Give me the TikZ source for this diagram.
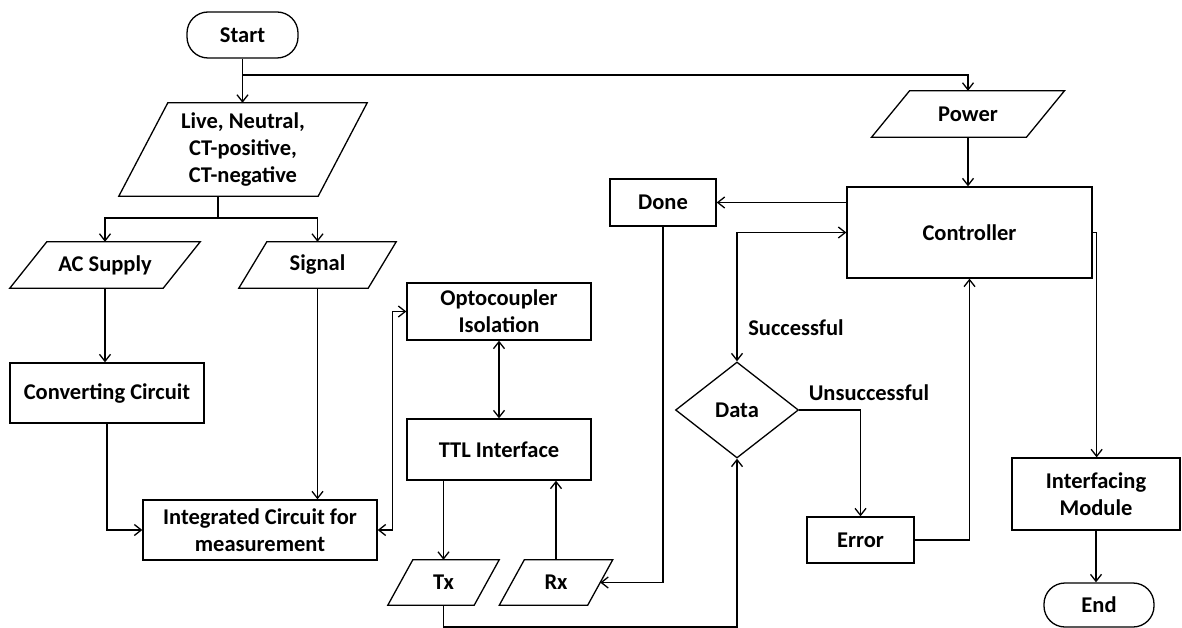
\documentclass[tikz,border=0pt]{standalone}
\usepackage{fontspec}
\setmainfont{Carlito}
\usetikzlibrary{arrows.meta,shapes.geometric}
\begin{document}
\begin{tikzpicture}[x=1pt,y=-1pt,
  every node/.style={font=\bfseries\fontsize{22.5}{27}\selectfont, inner sep=0pt, align=center},
  box/.style={draw, line width=1.3pt, minimum width=#1},
  io/.style={minimum width=#1},
  term/.style={draw, line width=1.3pt, rounded corners=21pt, minimum width=#1},
  dec/.style={draw, line width=1.3pt},
  link/.style={line width=1.5pt},
  arr/.style={link, -{Straight Barb[length=7pt,width=11pt,line width=1.3pt]}},
  both/.style={link, {Straight Barb[length=7pt,width=11pt,line width=1.3pt]}-{Straight Barb[length=7pt,width=11pt,line width=1.3pt]}},
  lbl/.style={}
]
\useasboundingbox (0,0) rectangle (1182,628);

% terminals
\node[term=111, minimum height=46] (start) at (242.5,35) {Start};
\node[term=110, minimum height=44] (end) at (1099,605) {End};

% input/output nodes (the parallelogram outline is drawn below)
\node[io=199, minimum height=93] (live) at (243,149.5) {Live, Neutral,\\CT-positive,\\CT-negative};
\node[io=153, minimum height=46] (ac) at (105,265) {AC Supply};
\node[io=129, minimum height=46] (signal) at (317.5,265) {Signal};
\node[io=154.5, minimum height=46] (power) at (968,114) {Power};
\node[io=86, minimum height=45] (tx) at (443.5,582.5) {Tx};
\node[io=88, minimum height=45] (rx) at (556,582.5) {Rx};

\foreach \n/\s in {live/24.5, ac/18.5, signal/14, power/19, tx/12.5, rx/12.5}{
  \draw[line width=1.3pt] ([xshift=\s pt]\n.north west) -- ([xshift=\s pt]\n.north east)
    -- ([xshift=-\s pt]\n.south east) -- ([xshift=-\s pt]\n.south west) -- cycle;
}

% process boxes
\node[box=194, minimum height=60] (conv) at (107,393) {Converting Circuit};
\node[box=234, minimum height=60] (ic) at (260,530) {Integrated Circuit for\\measurement};
\node[box=184, minimum height=57] (opto) at (499,311.5) {Optocoupler\\Isolation};
\node[box=184, minimum height=61] (ttl) at (499,449.5) {TTL Interface};
\node[box=106, minimum height=47] (done) at (663,202.5) {Done};
\node[box=245, minimum height=91] (ctrl) at (969.5,232.5) {Controller};
\node[box=107, minimum height=46] (error) at (860.5,540) {Error};
\node[box=168, minimum height=72] (intf) at (1096,494) {Interfacing\\Module};

% decision
\node[dec, shape=diamond, minimum width=123, minimum height=96, inner sep=0pt] (data) at (737,410) {Data};

% branch labels
\node[lbl] (succ) at (796,328) {Successful};
\node[lbl] (unsucc) at (869,393) {Unsuccessful};

% junction points
\coordinate (split1) at (243,75);
\coordinate (split2) at (218,218);

% connectors
\draw[arr] (start.south) -- (start.south |- live.north);
\draw[arr] (split1) -| (power.north);
\draw[link] (split2 |- live.south) -- (split2);
\draw[arr] (split2) -| (ac.north);
\draw[arr] (split2) -| (signal.north);
\draw[arr] (ac.south) -- (ac.south |- conv.north);
\draw[arr] (conv.south) |- (ic.west);
\draw[arr] (signal.south) -- (signal.south |- ic.north);
\draw[both] (ic.east) -- ++(15,0) |- (opto.west);
\draw[both] (opto.south) -- (ttl.north);
\draw[arr] (tx.north |- ttl.south) -- (tx.north);
\draw[arr] (rx.north) -- (rx.north |- ttl.south);
\draw[arr] (done.south) |- (rx.east);
\draw[arr] (tx.south) -- ++(0,22) -| (data.south);
\draw[arr] (ctrl.west |- done.east) -- (done.east);
\draw[both] (data.north) |- (ctrl.west);
\draw[arr] (data.east) -| (error.north);
\draw[arr] (error.east) -| (ctrl.south);
\draw[arr] (power.south) -- (power.south |- ctrl.north);
\draw[arr] (ctrl.east) -- ++(4,0) -- ([xshift=4pt]ctrl.east |- intf.north);
\draw[arr] (intf.south) -- (intf.south |- end.north);
\end{tikzpicture}
\end{document}
